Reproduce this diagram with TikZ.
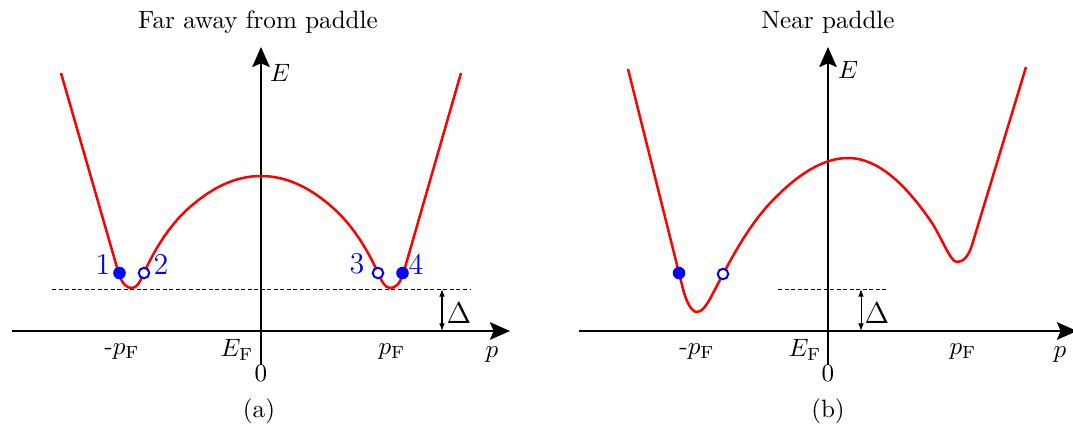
\documentclass[tikz,border=0pt]{standalone}
\usetikzlibrary{arrows.meta}

\tikzset{
  band/.style={red,line width=1pt,line join=round},
  axis/.style={thick,-{Stealth[length=8pt,width=7pt,inset=1.5pt]}},
  gapline/.style={dash pattern=on 1.6pt off 1pt,line width=0.4pt},
  gaparrow/.style={line width=0.4pt,{Latex[length=3pt,width=2.2pt]}-{Latex[length=3pt,width=2.2pt]}},
  fullpt/.style={circle,fill=blue,draw=blue,inner sep=0pt,minimum size=4.6pt},
  openpt/.style={circle,fill=white,draw=blue,line width=0.8pt,inner sep=0pt,minimum size=4.2pt},
  numlbl/.style={blue,inner sep=0pt,font=\large},
}

\begin{document}
\begin{tikzpicture}[x=0.014cm,y=0.014cm]
  \useasboundingbox (-261,-98) rectangle (812,331);

  % (a) far away from paddle
  \coordinate (pla) at (-249,0);
  \coordinate (pra) at (249,0);
  \coordinate (eda) at (0,-34);
  \coordinate (eua) at (0,284);
  \draw[axis] (pla) -- (pra);
  \draw[axis] (eda) -- (eua);
  \coordinate (dla) at (-209,42);
  \coordinate (dra) at (209,42);
  \draw[gapline] (dla) -- (dra);
  \coordinate (gua) at (181,42);
  \coordinate (gda) at (181,0);
  \draw[gaparrow] (gua) -- (gda);
  \node[font=\large] (dela) at (198,18) {$\Delta$};
  \draw[band] (-200,258) -- (-143,60)
    .. controls (-139,46) and (-134,43) .. (-129,43)
    .. controls (-124,43) and (-120.6,50) .. (-117,58)
    .. controls (-105,85) and (-89,108.4) .. (-71,124)
    .. controls (-47,145) and (-24,155) .. (0,155)
    .. controls (24,155) and (47,145) .. (71,124)
    .. controls (89,108.4) and (105,85) .. (117,58)
    .. controls (120.6,50) and (124,43) .. (129,43)
    .. controls (134,43) and (139,46) .. (143,60) -- (200,258);
  \node[fullpt] (s1) at (-141.5,58) {};
  \node[openpt] (s2) at (-117,58) {};
  \node[openpt] (s3) at (117,58) {};
  \node[fullpt] (s4) at (141.5,58) {};
  \node[numlbl] (n1) at (-158,67) {1};
  \node[numlbl] (n2) at (-100,67) {2};
  \node[numlbl] (n3) at (96,67) {3};
  \node[numlbl] (n4) at (155,67) {4};
  \node (ea) at (19,258) {$E$};
  \node (pa) at (231,-24) {$p$};
  \node (mfa) at (-139,-21) {-$p_{\mathrm{F}}$};
  \node (pfa) at (131,-21) {$p_{\mathrm{F}}$};
  \node (efa) at (-24,-19) {$E_{\mathrm{F}}$};
  \node (za) at (0,-42) {0};
  \node (capa) at (-2,-80) {(a)};
  \node (tita) at (-3,309) {Far away from paddle};

  % (b) near paddle
  \begin{scope}[shift={(567,0)}]
    \coordinate (plb) at (-249,0);
    \coordinate (prb) at (249,0);
    \coordinate (edb) at (0,-34);
    \coordinate (eub) at (0,284);
    \draw[axis] (plb) -- (prb);
    \draw[axis] (edb) -- (eub);
    \coordinate (dlb) at (-50,42);
    \coordinate (drb) at (60,42);
    \draw[gapline] (dlb) -- (drb);
    \coordinate (gub) at (33,42);
    \coordinate (gdb) at (33,0);
    \draw[gaparrow] (gub) -- (gdb);
    \node[font=\large] (delb) at (49,18) {$\Delta$};
    \draw[band] (-200,262) -- (-145,42)
      .. controls (-141.5,28) and (-136,19) .. (-131,19)
      .. controls (-126,19) and (-121,26.5) .. (-117,34)
      .. controls (-99.3,67.6) and (-81.6,103.6) .. (-55,131)
      .. controls (-30,156.7) and (-5,173) .. (20,173)
      .. controls (54,173) and (82.5,138.9) .. (102,111)
      .. controls (113.5,94.5) and (122,69) .. (129,69)
      .. controls (135,69) and (140.5,74.5) .. (144,86) -- (198,264);
    \node[fullpt] (t1) at (-149,58) {};
    \node[openpt] (t2) at (-105,57) {};
    \node (eb) at (20,261) {$E$};
    \node (pb) at (232,-24) {$p$};
    \node (mfb) at (-131,-21) {-$p_{\mathrm{F}}$};
    \node (pfb) at (135,-21) {$p_{\mathrm{F}}$};
    \node (efb) at (-23,-19) {$E_{\mathrm{F}}$};
    \node (zb) at (0,-42) {0};
    \node (capb) at (0,-80) {(b)};
    \node (titb) at (0,309) {Near paddle};
  \end{scope}
\end{tikzpicture}
\end{document}
